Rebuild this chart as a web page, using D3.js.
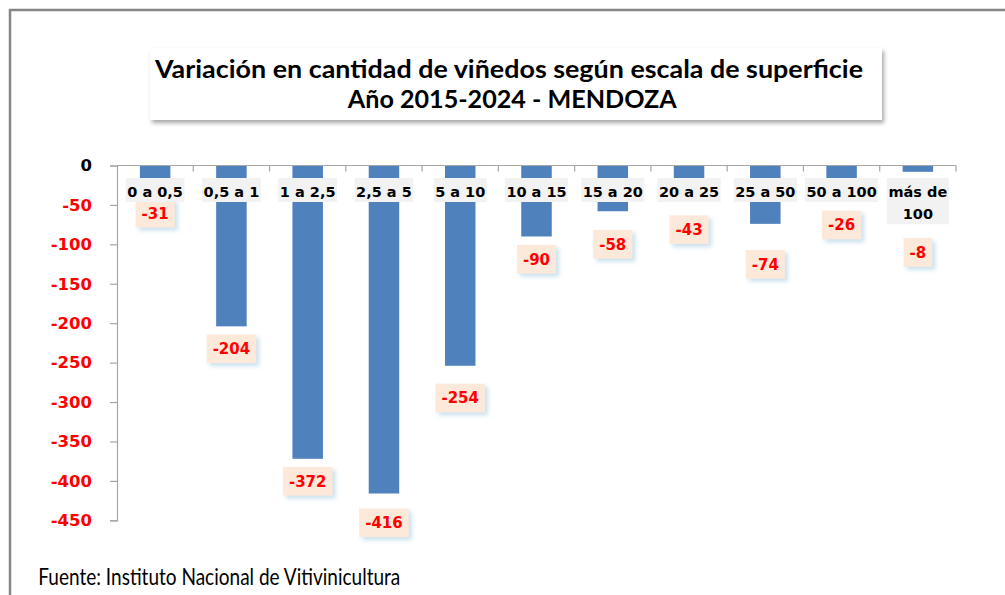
<!DOCTYPE html>
<html>
<head>
<meta charset="utf-8">
<script src="https://cdn.jsdelivr.net/npm/d3@7"></script>
<style>
  html, body { margin: 0; padding: 0; background: #ffffff; }
  svg { display: block; }
</style>
</head>
<body>
<div id="chart"></div>
<script>
// ---- data ----
const categories = ["0 a 0,5", "0,5 a 1", "1 a 2,5", "2,5 a 5", "5 a 10", "10 a 15", "15 a 20", "20 a 25", "25 a 50", "50 a 100", "más de 100"];
const values = [-31, -204, -372, -416, -254, -90, -58, -43, -74, -26, -8];
const yTicks = [0, -50, -100, -150, -200, -250, -300, -350, -400, -450];
const titleLines = ["Variación en cantidad de viñedos según escala de superficie", "Año 2015-2024 - MENDOZA"];
const sourceText = "Fuente: Instituto Nacional de Vitivinicultura";

// ---- layout (manual label placement from the original, px below bar end) ----
const labelGap = [23.3, 22.4, 22.4, 29.3, 32.2, 22.7, 33, 30.3, 40.4, 39, 80.7];

const W = 1005, H = 595;
const svg = d3.select("#chart").append("svg").attr("width", W).attr("height", H);

const defs = svg.append("defs");
const fTitle = defs.append("filter").attr("id", "titleShadow").attr("x", "-5%").attr("y", "-20%").attr("width", "112%").attr("height", "150%");
fTitle.append("feDropShadow").attr("dx", 2).attr("dy", 3).attr("stdDeviation", 2).attr("flood-color", "#000").attr("flood-opacity", 0.35);
const fLab = defs.append("filter").attr("id", "labShadow").attr("x", "-20%").attr("y", "-20%").attr("width", "150%").attr("height", "160%");
fLab.append("feDropShadow").attr("dx", 3).attr("dy", 3).attr("stdDeviation", 2).attr("flood-color", "#9cc8e0").attr("flood-opacity", 0.55);

svg.append("rect").attr("width", W).attr("height", H).attr("fill", "#fff");
// outer frame
svg.append("rect").attr("x", 10).attr("y", 10).attr("width", 1010).attr("height", 600)
  .attr("fill", "none").attr("stroke", "#868686").attr("stroke-width", 2.5);

// title box
svg.append("rect").attr("x", 150).attr("y", 48).attr("width", 732).attr("height", 72)
  .attr("fill", "#fff").attr("filter", "url(#titleShadow)");
const titleFont = "Lato, 'Open Sans', sans-serif";
svg.append("text").attr("x", 509).attr("y", 77.7).attr("text-anchor", "middle")
  .attr("font-family", titleFont).attr("font-weight", "bold").attr("font-size", 24)
  .attr("textLength", 708).attr("lengthAdjust", "spacingAndGlyphs").attr("fill", "#000")
  .text(titleLines[0]);
svg.append("text").attr("x", 512.3).attr("y", 108.3).attr("text-anchor", "middle")
  .attr("font-family", titleFont).attr("font-weight", "bold").attr("font-size", 24)
  .attr("textLength", 329).attr("lengthAdjust", "spacingAndGlyphs").attr("fill", "#000")
  .text(titleLines[1]);

// scales
const x = d3.scaleBand().domain(categories).range([117, 956]).paddingInner(0.6).paddingOuter(0.3);
const y = d3.scaleLinear().domain([-450, 0]).range([520.3, 165.5]);

const sansBold = "'DejaVu Sans', Verdana, sans-serif";

// y axis
const yAxis = svg.append("g").attr("transform", "translate(117,0)")
  .call(d3.axisLeft(y).tickValues(yTicks).tickSize(7).tickPadding(18).tickFormat(d => String(d)));
yAxis.select(".domain").attr("stroke", "#a6a6a6").attr("stroke-width", 1.2);
yAxis.selectAll(".tick line").attr("stroke", "#a6a6a6").attr("stroke-width", 1.2);
yAxis.selectAll(".tick text")
  .attr("font-family", sansBold).attr("font-weight", "bold").attr("font-size", 16.5)
  .attr("fill", d => d === 0 ? "#000" : "#ff0000");

// bars
svg.append("g").selectAll("rect").data(values).join("rect")
  .attr("x", (d, i) => x(categories[i]))
  .attr("y", y(0))
  .attr("width", x.bandwidth())
  .attr("height", d => y(d) - y(0))
  .attr("fill", "#4f81bd");

// x axis (at zero)
const xAxisG = svg.append("g").attr("transform", `translate(0,${y(0)})`);
xAxisG.append("line").attr("x1", 117).attr("x2", 956).attr("y1", 0).attr("y2", 0)
  .attr("stroke", "#a6a6a6").attr("stroke-width", 1.2);
const step = x.step();
xAxisG.selectAll("line.tk").data(d3.range(1, categories.length + 1)).join("line").attr("class", "tk")
  .attr("x1", i => 117 + i * step).attr("x2", i => 117 + i * step)
  .attr("y1", 0).attr("y2", 6).attr("stroke", "#a6a6a6").attr("stroke-width", 1.2);

// data labels
const labG = svg.append("g");
values.forEach((v, i) => {
  const cx = x(categories[i]) + x.bandwidth() / 2;
  const cy = y(v) + labelGap[i];
  const g = labG.append("g");
  const t = g.append("text").attr("x", cx).attr("y", cy + 5.4).attr("text-anchor", "middle")
    .attr("font-family", sansBold).attr("font-weight", "bold").attr("font-size", 15)
    .attr("fill", "#ff0000").text(String(v));
  const bb = t.node().getBBox();
  g.insert("rect", "text").attr("x", cx - bb.width / 2 - 6).attr("y", cy - 14.3)
    .attr("width", bb.width + 12).attr("height", 28.6)
    .attr("fill", "#fde9d9").attr("filter", "url(#labShadow)");
});

// category labels (drawn on top of bars, light grey boxes)
const catG = svg.append("g");
const catFont = 14.5;
categories.forEach((c, i) => {
  const cx = x(c) + x.bandwidth() / 2;
  const g = catG.append("g");
  // measure and wrap
  const probe = g.append("text").attr("font-family", sansBold).attr("font-weight", "bold").attr("font-size", catFont).text(c);
  let lines = [c];
  if (probe.node().getComputedTextLength() > step - 2) {
    const words = c.split(" ");
    lines = [];
    let cur = "";
    words.forEach(w => {
      const test = cur ? cur + " " + w : w;
      probe.text(test);
      if (probe.node().getComputedTextLength() > step - 2 && cur) { lines.push(cur); cur = w; }
      else cur = test;
    });
    if (cur) lines.push(cur);
  }
  probe.remove();
  const lineH = 22.3;
  const top = 178;
  const boxH = 24 + (lines.length - 1) * lineH;
  const t = g.append("text").attr("text-anchor", "middle")
    .attr("font-family", sansBold).attr("font-weight", "bold").attr("font-size", catFont).attr("fill", "#000");
  lines.forEach((ln, k) => {
    t.append("tspan").attr("x", cx).attr("y", top + 18.7 + k * lineH).text(ln);
  });
  const bb = t.node().getBBox();
  g.insert("rect", "text").attr("x", cx - bb.width / 2 - 1.5).attr("y", top)
    .attr("width", bb.width + 3).attr("height", boxH).attr("fill", "#f2f2f2");
});

// source
svg.append("text").attr("x", 38.3).attr("y", 585).attr("font-family", "Lato, 'Open Sans', sans-serif")
  .attr("font-size", 23).attr("fill", "#000")
  .attr("textLength", 362).attr("lengthAdjust", "spacingAndGlyphs")
  .text(sourceText);
</script>
</body>
</html>
